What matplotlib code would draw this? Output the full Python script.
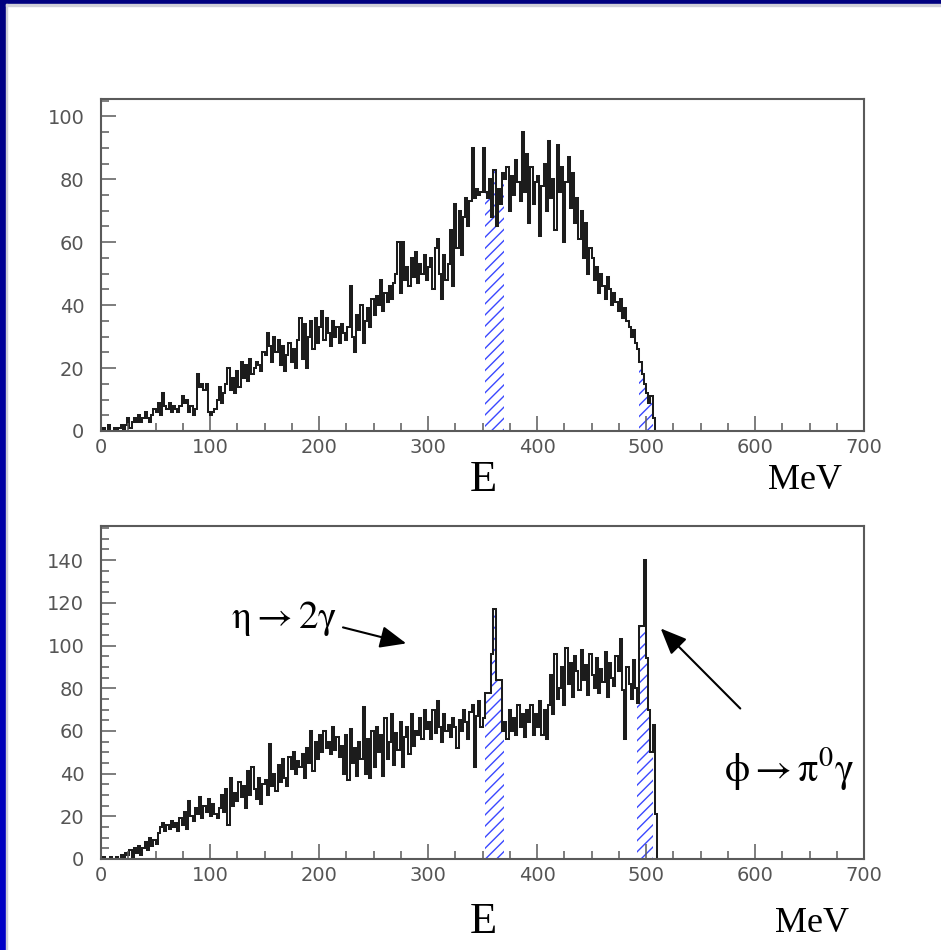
import numpy as np
import matplotlib
matplotlib.use("Agg")
import matplotlib.pyplot as plt
from matplotlib.colors import LinearSegmentedColormap
from matplotlib.patches import Rectangle

# photon energy spectra, 2 MeV bins starting at 0 MeV
bin_width = 2
counts_top = [
    0, 1, 0, 2, 0, 0, 1, 0, 1, 2, 0, 2, 4, 1, 3, 4, 3, 5, 3, 4, 6, 4, 3, 5, 7,
    6, 9, 5, 12, 8, 7, 9, 6, 8, 7, 6, 8, 11, 9, 10, 6, 8, 5, 7, 18, 14, 15, 13, 15, 6,
    5, 6, 7, 10, 14, 9, 12, 15, 20, 13, 17, 12, 19, 14, 22, 17, 21, 16, 23, 18, 20, 22, 21, 19, 25,
    24, 31, 27, 22, 30, 25, 29, 21, 27, 19, 24, 28, 22, 26, 20, 29, 36, 23, 34, 20, 30, 35, 26, 36, 28,
    33, 38, 29, 36, 31, 27, 35, 30, 33, 28, 34, 31, 29, 33, 46, 30, 25, 37, 32, 40, 28, 35, 39, 33, 42,
    37, 43, 40, 48, 38, 44, 41, 46, 42, 47, 50, 60, 44, 60, 48, 52, 46, 55, 49, 57, 47, 53, 50, 56, 48,
    52, 55, 45, 58, 61, 50, 42, 56, 48, 53, 64, 46, 72, 58, 70, 56, 68, 74, 65, 73, 90, 74, 77, 75, 76,
    90, 76, 74, 80, 68, 83, 65, 77, 72, 82, 80, 84, 70, 81, 75, 86, 79, 73, 95, 76, 88, 66, 84, 72, 79,
    81, 62, 78, 85, 70, 92, 74, 80, 64, 91, 76, 84, 60, 79, 87, 71, 82, 66, 74, 61, 70, 55, 66, 50, 58,
    55, 48, 52, 44, 50, 46, 42, 49, 45, 40, 44, 41, 38, 42, 36, 39, 35, 33, 30, 32, 28, 26, 22, 18, 15,
    12, 9, 11, 4, 0,
]
counts_bottom = [
    0, 1, 0, 0, 1, 0, 0, 1, 0, 2, 1, 3, 2, 4, 1, 5, 3, 6, 2, 5, 8, 4, 10, 6, 9,
    7, 12, 15, 17, 13, 16, 14, 18, 15, 17, 13, 19, 16, 22, 14, 27, 20, 18, 24, 21, 29, 19, 25, 22, 28,
    20, 26, 21, 19, 24, 30, 22, 33, 16, 38, 25, 31, 27, 36, 29, 34, 24, 41, 30, 43, 33, 28, 38, 26, 35,
    37, 30, 54, 34, 40, 32, 44, 36, 47, 38, 34, 48, 42, 50, 40, 46, 43, 49, 38, 52, 45, 60, 41, 55, 47,
    58, 50, 60, 52, 55, 49, 62, 51, 57, 48, 53, 40, 58, 37, 61, 45, 52, 39, 55, 47, 71, 40, 56, 38, 60,
    43, 62, 50, 58, 39, 66, 47, 55, 68, 44, 59, 51, 64, 43, 57, 62, 49, 68, 53, 60, 58, 66, 56, 70, 61,
    64, 56, 70, 59, 74, 62, 55, 68, 60, 63, 57, 66, 62, 52, 65, 60, 70, 64, 56, 69, 72, 43, 67, 74, 62,
    66, 78, 78, 78, 96, 117, 84, 84, 84, 60, 64, 56, 70, 60, 66, 58, 72, 62, 68, 57, 70, 64, 72, 58, 68,
    62, 74, 58, 70, 56, 72, 86, 68, 96, 75, 80, 90, 72, 99, 82, 92, 76, 95, 88, 79, 98, 84, 91, 77, 96,
    86, 80, 94, 78, 89, 83, 97, 76, 92, 85, 81, 95, 88, 103, 79, 56, 90, 82, 75, 93, 80, 73, 109, 109, 140,
    94, 70, 50, 63, 21,
]
hatch_top = [(352, 370), (494, 506)]
hatch_bottom = [(352, 370), (492, 506)]
ymax_top = 105.5
ymax_bottom = 156

W, H = 941, 950
LINE = "#1c1c1c"
AXIS = "#5a5a5a"
HATCH = "#3a48ff"

plt.rcParams["mathtext.fontset"] = "stix"
plt.rcParams["hatch.linewidth"] = 1.0


def px(x, y):
    return x / W, 1 - y / H


def draw_hist(ax, counts, windows, ymax):
    counts = np.asarray(counts, dtype=float)
    edges = np.arange(len(counts) + 1) * bin_width
    for lo, hi in windows:
        sel = (edges[:-1] >= lo) & (edges[1:] <= hi)
        idx = np.where(sel)[0]
        ax.stairs(counts[idx], edges[idx[0]:idx[-1] + 2], fill=True,
                  facecolor="none", edgecolor=HATCH, hatch="///", linewidth=0)
    ax.stairs(counts, edges, color=LINE, linewidth=1.45)

    ax.set_xlim(0, 700)
    ax.set_ylim(0, ymax)
    ax.set_xticks(np.arange(0, 701, 100))
    ax.set_xticks(np.arange(0, 701, 25), minor=True)
    ax.set_yticks(np.arange(0, ymax, 20))
    ax.set_yticks(np.arange(0, ymax, 5), minor=True)
    for side in ax.spines.values():
        side.set_color(AXIS)
        side.set_linewidth(1.5)
    ax.tick_params(which="both", direction="in", color=AXIS, width=1.1,
                   labelcolor="#555555", labelsize=14)
    ax.tick_params(which="major", length=11)
    ax.tick_params(which="minor", length=5.5)
    ax.tick_params(axis="x", pad=5)
    ax.tick_params(axis="y", pad=12)


fig = plt.figure(figsize=(W / 100, H / 100), dpi=100)

# slide frame: gradient stripe on the left, navy bar on top
stripe = fig.add_axes([0, 0, 6 / W, 1])
stripe.imshow(np.linspace(0, 1, 256).reshape(-1, 1), aspect="auto",
              cmap=LinearSegmentedColormap.from_list("frame", ["#000080", "#0000c8"]))
stripe.set_axis_off()
fig.patches.append(Rectangle((0, 1 - 4 / H), 1, 4 / H, color="#000080",
                             transform=fig.transFigure, zorder=5))
fig.patches.append(Rectangle((6 / W, 0), 1.5 / W, 1 - 4 / H, color="#d0d0d8",
                             transform=fig.transFigure, zorder=5))
fig.patches.append(Rectangle((6 / W, 1 - 5.5 / H), 1, 1.5 / H, color="#d0d0d8",
                             transform=fig.transFigure, zorder=5))

ax_top = fig.add_axes([101 / W, 1 - 431 / H, 763 / W, 332 / H])
draw_hist(ax_top, counts_top, hatch_top, ymax_top)

ax_bot = fig.add_axes([101 / W, 1 - 859 / H, 763 / W, 333 / H])
draw_hist(ax_bot, counts_bottom, hatch_bottom, ymax_bottom)

serif = ["Liberation Serif", "DejaVu Serif"]
fig.text(*px(483, 480), "E", family=serif, fontsize=32, ha="center", va="center")
fig.text(*px(805, 481), "MeV", family=serif, fontsize=26, ha="center", va="center")
fig.text(*px(483, 922), "E", family=serif, fontsize=32, ha="center", va="center")
fig.text(*px(812, 924), "MeV", family=serif, fontsize=26, ha="center", va="center")

ax_bot.text(119, 108, r"$\mathrm{\eta\rightarrow2\gamma}$", fontsize=28,
            ha="left", va="baseline")
ax_bot.annotate("", xy=(280, 101), xytext=(222, 108.5),
                arrowprops=dict(arrowstyle="-|>,head_length=0.4,head_width=0.17",
                                mutation_scale=40, lw=1.5, color="black",
                                shrinkA=0, shrinkB=0))
ax_bot.text(572, 36, r"$\mathrm{\phi\rightarrow\pi^0\gamma}$", fontsize=29,
            ha="left", va="baseline")
ax_bot.annotate("", xy=(513.5, 108), xytext=(586.5, 70.5),
                arrowprops=dict(arrowstyle="-|>,head_length=0.4,head_width=0.17",
                                mutation_scale=40, lw=1.5, color="black",
                                shrinkA=0, shrinkB=0))

fig.savefig("out.png", dpi=100)
